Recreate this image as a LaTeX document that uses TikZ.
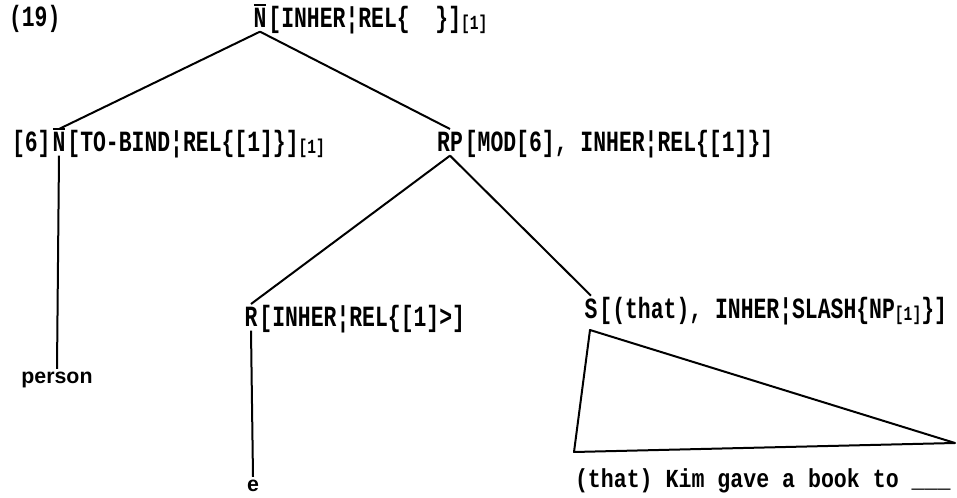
\documentclass[tikz,border=0pt]{standalone}
\usepackage{fontspec}
\usetikzlibrary{positioning}
\newfontfamily\catfont{Liberation Mono}[FakeStretch=0.73]
\newfontfamily\sentfont{Liberation Mono}[FakeStretch=0.83]
\newfontfamily\wordfont{Liberation Sans}
% barred N and the small index after a category
\newcommand{\nbar}{\ooalign{N\cr\hidewidth\raisebox{0.76em}{\rule{0.42em}{0.07em}}\hidewidth\cr}}
\newcommand{\idx}[1]{\raisebox{-1pt}{\fontsize{15}{15}\selectfont #1}}

\begin{document}
\begin{tikzpicture} [%
    x = 0.75pt,
    y = -0.75pt,
    line width = 1.5pt,
    line join = round,
    node distance = 0pt,
    every node/.style = {%
      inner sep = 0pt,
      font = \catfont\bfseries\fontsize{22}{26}\selectfont },
    head/.style = {inner xsep = 0pt, inner ysep = 2pt, anchor = base},
    word/.style = {%
      inner sep = 2pt,
      anchor = base,
      font = \wordfont\bfseries\fontsize{16}{19}\selectfont }
  ]
  \useasboundingbox (0,0) rectangle (957,498);

  \node[anchor=base west] (num) at (8,27) {(19)};

  \node[head] (top) at (260,28) {\nbar};
  \node[base right=of top] (top-feat) {[INHER¦REL\{\ \ \}]\idx{[1]}};

  \node[head] (nl) at (59,152) {\nbar};
  \node[base left=of nl] (nl-tag) {[6]};
  \node[base right=of nl] (nl-feat) {[TO-BIND¦REL\{[1]\}]\idx{[1]}};

  \node[head] (rp) at (450,152) {RP};
  \node[base right=of rp] (rp-feat) {[MOD[6], INHER¦REL\{[1]\}]};

  \node[head] (r) at (251,327) {R};
  \node[base right=of r] (r-feat) {[INHER¦REL\{[1]>]};

  \node[head] (s) at (591,319) {S};
  \node[base right=of s] (s-feat) {[(that), INHER¦SLASH\{NP\idx{[1]}\}]};

  \node[word] (person) at (57,384) {person};
  \node[word] (e) at (253,492) {e};
  \node[anchor=base west, font=\sentfont\bfseries\fontsize{19.5}{23}\selectfont]
    (sent) at (574,488) {(that) Kim gave a book to \_\_\_};

  \coordinate (apex) at (590,330);
  \coordinate (foot-l) at (574,452);
  \coordinate (foot-r) at (955,443);

  \draw (top.south) -- (nl.north)
        (top.south) -- (rp.north);
  \draw (rp.south) -- (r.north)
        (rp.south) -- (s.north);
  \draw (nl.south) -- (person.north);
  \draw (r.south) -- (e.north);
  \draw (apex) -- (foot-l) -- (foot-r) -- cycle;
\end{tikzpicture}
\end{document}
